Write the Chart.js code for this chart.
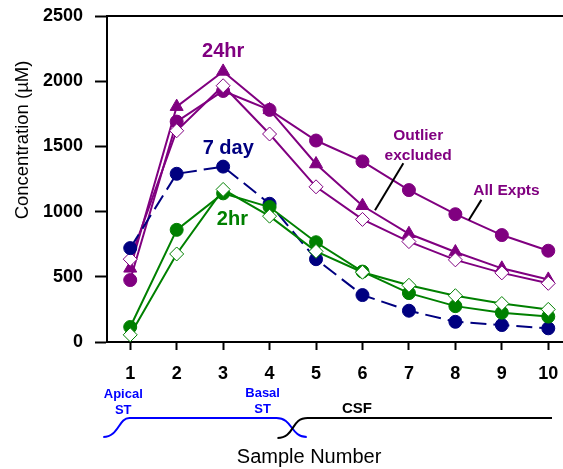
<!DOCTYPE html>
<html>
<head>
<meta charset="utf-8">
<script src="https://cdn.jsdelivr.net/npm/chart.js@4/dist/chart.umd.min.js"></script>
<style>
  html, body { margin: 0; padding: 0; background: #fff; overflow: hidden; }
</style>
</head>
<body>
<canvas id="chart" width="580" height="469"></canvas>
<script>
// sample numbers on the x axis
const samples = ["1", "2", "3", "4", "5", "6", "7", "8", "9", "10"];

// 24hr series (purple)
const allExpts24hr = [475, 1690, 1925, 1780, 1545, 1385, 1165, 980, 820, 700];
const outlierExcl24hr = [565, 1805, 2075, 1780, 1365, 1045, 830, 690, 565, 480];
const diamond24hr = [635, 1620, 1965, 1595, 1190, 940, 770, 630, 530, 450];

// 7 day series (navy, dashed)
const sevenDay = [720, 1290, 1345, 1060, 635, 360, 240, 155, 130, 105];

// 2hr series (green)
const circle2hr = [115, 860, 1140, 1035, 765, 540, 375, 275, 225, 195];
const diamond2hr = [55, 675, 1170, 965, 695, 535, 435, 355, 295, 250];

const yTicks = [0, 500, 1000, 1500, 2000, 2500];

// text labels placed at (sample, concentration)
const notes = [
  { text: "24hr", x: 3, y: 2230, color: "#800080", size: 20 },
  { text: "7 day", x: 3.11, y: 1485, color: "#000080", size: 20 },
  { text: "2hr", x: 3.2, y: 940, color: "#008000", size: 20 },
  { text: "Outlier", x: 7.2, y: 1580, color: "#800080", size: 15.5 },
  { text: "excluded", x: 7.2, y: 1432, color: "#800080", size: 15.5 },
  { text: "All Expts", x: 9.1, y: 1158, color: "#800080", size: 15.5 }
];
// pointer lines from labels to curves
const pointers = [
  { x1: 6.88, y1: 1370, x2: 6.27, y2: 1010 },
  { x1: 8.56, y1: 1090, x2: 8.29, y2: 935 }
];

const purple = "#800080";
const navy = "#000080";
const green = "#008000";
const font = "'Liberation Sans', Arial, sans-serif";

const extras = {
  id: "extras",
  afterDraw(chart) {
    const ctx = chart.ctx;
    const a = chart.chartArea;
    const xs = chart.scales.x;
    const ys = chart.scales.y;
    const px = (v) => xs.getPixelForValue(v - 1);
    ctx.save();

    // frame on top / right
    ctx.strokeStyle = "#000";
    ctx.lineWidth = 2;
    ctx.beginPath();
    ctx.moveTo(a.left, a.top);
    ctx.lineTo(a.right, a.top);
    ctx.lineTo(a.right, a.bottom);
    ctx.stroke();

    // pointer lines
    ctx.lineWidth = 2;
    pointers.forEach((p) => {
      ctx.beginPath();
      ctx.moveTo(px(p.x1), ys.getPixelForValue(p.y1));
      ctx.lineTo(px(p.x2), ys.getPixelForValue(p.y2));
      ctx.stroke();
    });

    // text notes
    ctx.textAlign = "center";
    ctx.textBaseline = "middle";
    notes.forEach((n) => {
      ctx.fillStyle = n.color;
      ctx.font = "bold " + n.size + "px " + font;
      ctx.fillText(n.text, px(n.x), ys.getPixelForValue(n.y));
    });

    // brackets under the axis
    const base = a.bottom;
    ctx.lineWidth = 2;
    ctx.strokeStyle = "#0000ff";
    ctx.beginPath();
    ctx.moveTo(px(0.42), base + 95);
    ctx.bezierCurveTo(px(0.75), base + 95, px(0.75), base + 76, px(0.98), base + 76);
    ctx.lineTo(px(4.15), base + 76);
    ctx.bezierCurveTo(px(4.5), base + 76, px(4.45), base + 95, px(4.8), base + 95);
    ctx.stroke();

    ctx.strokeStyle = "#000";
    ctx.beginPath();
    ctx.moveTo(px(4.17), base + 96);
    ctx.bezierCurveTo(px(4.55), base + 96, px(4.45), base + 76, px(4.82), base + 76);
    ctx.lineTo(px(10.08), base + 76);
    ctx.stroke();

    ctx.fillStyle = "#0000ff";
    ctx.font = "bold 13px " + font;
    ctx.fillText("Apical", px(0.85), base + 52);
    ctx.fillText("ST", px(0.85), base + 68);
    ctx.fillText("Basal", px(3.85), base + 51);
    ctx.fillText("ST", px(3.85), base + 67);
    ctx.fillStyle = "#000";
    ctx.font = "bold 15px " + font;
    ctx.fillText("CSF", px(5.88), base + 67);

    // axis titles
    ctx.font = "20px " + font;
    ctx.fillText("Sample Number", px(4.85), base + 115);

    ctx.translate(23, 140);
    ctx.rotate(-Math.PI / 2);
    ctx.font = "18.5px " + font;
    ctx.fillText("Concentration (\u00b5M)", 0, 0);
    ctx.restore();
  }
};

function series(data, color, style, filled, radius, dash) {
  return {
    data: data,
    borderColor: color,
    backgroundColor: filled ? color : "#ffffff",
    pointStyle: style,
    pointRadius: radius,
    pointBorderColor: color,
    pointBackgroundColor: filled ? color : "#ffffff",
    pointBorderWidth: 1,
    borderWidth: 2,
    borderDash: dash || [],
    tension: 0,
    fill: false
  };
}

new Chart(document.getElementById("chart"), {
  type: "line",
  data: {
    labels: samples,
    datasets: [
      series(diamond2hr, green, "rectRot", false, 7),
      series(circle2hr, green, "circle", true, 6.5),
      series(sevenDay, navy, "circle", true, 6.5, [16, 7]),
      series(diamond24hr, purple, "rectRot", false, 7),
      series(outlierExcl24hr, purple, "triangle", true, 7.5),
      series(allExpts24hr, purple, "circle", true, 6.5)
    ]
  },
  options: {
    responsive: false,
    animation: false,
    devicePixelRatio: 1,
    layout: { padding: { top: 16, right: 8, left: 0, bottom: 0 } },
    plugins: { legend: { display: false }, tooltip: { enabled: false } },
    scales: {
      x: {
        type: "category",
        offset: true,
        grid: {
          offset: false,
          drawOnChartArea: false,
          tickLength: 8,
          tickWidth: 2,
          tickColor: "#000"
        },
        border: { color: "#000", width: 2 },
        ticks: {
          color: "#000",
          padding: 13,
          maxRotation: 0,
          font: { family: font, size: 18, weight: "bold" }
        },
        afterFit(scale) {
          scale.height = 127;
          scale.paddingLeft = 0;
          scale.paddingRight = 0;
        }
      },
      y: {
        min: 0,
        max: 2500,
        afterBuildTicks(scale) { scale.ticks = yTicks.map((v) => ({ value: v })); },
        grid: {
          drawOnChartArea: false,
          tickLength: 12,
          tickWidth: 2,
          tickColor: "#000"
        },
        border: { color: "#000", width: 2 },
        ticks: {
          color: "#000",
          padding: 12,
          callback: (v) => String(v),
          font: { family: font, size: 18, weight: "bold" }
        },
        afterFit(scale) {
          scale.width = 107;
          scale.paddingTop = 0;
          scale.paddingBottom = 0;
        }
      }
    }
  },
  plugins: [extras]
});
</script>
</body>
</html>
